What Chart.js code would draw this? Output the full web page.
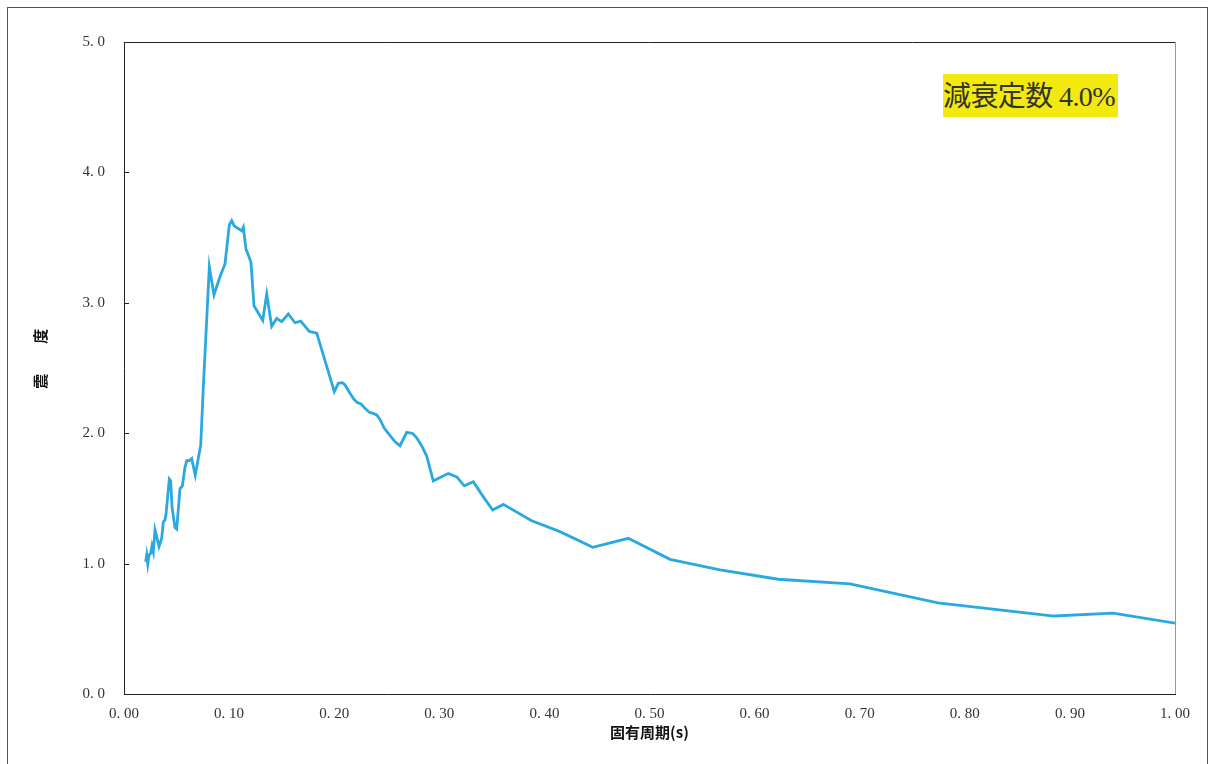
<!DOCTYPE html>
<html lang="ja">
<head>
<meta charset="utf-8">
<title>応答スペクトル</title>
<script src="https://cdn.jsdelivr.net/npm/chart.js@4"></script>
<style>
  html, body { margin: 0; padding: 0; background: #fff; }
  body { width: 1214px; height: 764px; position: relative; overflow: hidden; }
  .frame {
    position: absolute; left: 7px; top: 7px; width: 1201px; height: 780px;
    border: 1px solid #555; box-sizing: border-box;
  }
  .wrap { position: absolute; left: 0; top: 0; width: 1214px; height: 764px; }
  .note {
    position: absolute; left: 943px; top: 74px; width: 175px; height: 43px;
    background: #f2e90f; color: #333;
    font-family: "Liberation Serif", "Noto Sans CJK JP", serif;
    font-size: 28px; line-height: 45px; white-space: nowrap; letter-spacing: -0.6px;
    overflow: hidden;
  }
</style>
</head>
<body>
<div class="frame"></div>
<div class="wrap"><canvas id="myChart" width="1214" height="764"></canvas></div>
<div class="note">減衰定数 4.0%</div>
<script>
// periods (s) and response values
const periods = [
  0.0206, 0.0216, 0.0226, 0.0238, 0.0254, 0.0266, 0.0279, 0.0295, 0.0311, 0.0333,
  0.0359, 0.0374, 0.0390, 0.0400, 0.0431, 0.0444, 0.0457, 0.0485, 0.0501, 0.0533,
  0.0555, 0.0580, 0.0597, 0.0621, 0.0644, 0.0678, 0.0730, 0.0755, 0.0812, 0.0856,
  0.0913, 0.0961, 0.1002, 0.1025, 0.1049, 0.1097, 0.1120, 0.1135, 0.1161, 0.1183,
  0.1208, 0.1237, 0.1320, 0.1358, 0.1405, 0.1453, 0.1500, 0.1563, 0.1627, 0.1681,
  0.1763, 0.1834, 0.2001, 0.2039, 0.2077, 0.2103, 0.2150, 0.2188, 0.2220, 0.2255,
  0.2293, 0.2334, 0.2372, 0.2404, 0.2436, 0.2477, 0.2515, 0.2579, 0.2626, 0.2690,
  0.2747, 0.2785, 0.2833, 0.2880, 0.2943, 0.3007, 0.3086, 0.3166, 0.3238, 0.3324,
  0.3419, 0.3508, 0.3609, 0.3879, 0.4148, 0.4460, 0.4798, 0.5195, 0.5671, 0.6226,
  0.6908, 0.7745, 0.8849, 0.9410, 1.0000
];
const response = [
  1.014, 1.066, 0.997, 1.066, 1.079, 1.135, 1.090, 1.258, 1.207, 1.130,
  1.194, 1.320, 1.334, 1.380, 1.649, 1.636, 1.434, 1.276, 1.265, 1.575,
  1.595, 1.738, 1.790, 1.790, 1.805, 1.677, 1.910, 2.357, 3.277, 3.060,
  3.200, 3.298, 3.597, 3.630, 3.589, 3.564, 3.553, 3.579, 3.410, 3.366,
  3.310, 2.977, 2.865, 3.067, 2.820, 2.880, 2.855, 2.914, 2.847, 2.860,
  2.780, 2.767, 2.318, 2.382, 2.387, 2.370, 2.306, 2.260, 2.235, 2.224,
  2.191, 2.160, 2.152, 2.140, 2.106, 2.037, 1.998, 1.934, 1.904, 2.006,
  1.998, 1.965, 1.902, 1.825, 1.633, 1.660, 1.691, 1.665, 1.596, 1.627,
  1.512, 1.411, 1.454, 1.329, 1.245, 1.125, 1.194, 1.033, 0.951, 0.880,
  0.844, 0.698, 0.598, 0.620, 0.544
];
const xTicks = [0, 0.1, 0.2, 0.3, 0.4, 0.5, 0.6, 0.7, 0.8, 0.9, 1.0];
const yTicks = [0, 1, 2, 3, 4, 5];

const tickFont = { family: '"Liberation Serif", "DejaVu Serif", serif', size: 15 };

// plot frame plus short inward ticks on the y axis
const framePlugin = {
  id: 'frame',
  afterDraw(chart) {
    const { ctx, chartArea: a, scales } = chart;
    ctx.save();
    ctx.lineWidth = 1;
    ctx.strokeStyle = '#999';
    ctx.beginPath();
    ctx.moveTo(a.right + 0.5, a.top);
    ctx.lineTo(a.right + 0.5, a.bottom);
    ctx.stroke();
    ctx.strokeStyle = '#222';
    ctx.beginPath();
    ctx.moveTo(a.right, a.top + 0.5);
    ctx.lineTo(a.left + 0.5, a.top + 0.5);
    ctx.lineTo(a.left + 0.5, a.bottom + 0.5);
    ctx.lineTo(a.right + 1, a.bottom + 0.5);
    ctx.stroke();
    yTicks.forEach(v => {
      const y = Math.round(scales.y.getPixelForValue(v)) + 0.5;
      ctx.beginPath();
      ctx.moveTo(a.left, y);
      ctx.lineTo(a.left + 5, y);
      ctx.stroke();
    });
    ctx.restore();
  }
};

const ctx = document.getElementById('myChart').getContext('2d');

new Chart(ctx, {
  type: 'line',
  data: {
    datasets: [{
      label: '応答',
      data: periods.map((p, i) => ({ x: p, y: response[i] })),
      borderColor: '#2aa9e0',
      borderWidth: 2.8,
      pointRadius: 0,
      tension: 0,
      fill: false
    }]
  },
  options: {
    responsive: false,
    animation: false,
    layout: { padding: { left: 0, top: 42, right: 39, bottom: 20 } },
    plugins: {
      legend: { display: false },
      tooltip: { enabled: false }
    },
    scales: {
      x: {
        type: 'linear',
        min: 0,
        max: 1,
        afterFit: s => { s.height = 50; },
        afterBuildTicks: s => { s.ticks = xTicks.map(v => ({ value: v })); },
        grid: { display: false, drawTicks: false },
        border: { display: false },
        ticks: {
          padding: 11,
          color: '#333',
          font: tickFont,
          maxRotation: 0,
          callback: v => v.toFixed(2).replace('.', '. ')
        },
        title: {
          display: true,
          text: '固有周期(s)',
          color: '#111',
          font: { family: '"Noto Sans CJK JP", sans-serif', size: 15, weight: 'bold' },
          padding: { top: 0, bottom: 3 }
        }
      },
      y: {
        min: 0,
        max: 5,
        afterFit: s => { s.width = 124; },
        afterBuildTicks: s => { s.ticks = yTicks.map(v => ({ value: v })); },
        grid: { display: false, drawTicks: false },
        border: { display: false },
        ticks: {
          padding: 19,
          color: '#333',
          font: tickFont,
          callback: v => v.toFixed(1).replace('.', '. ')
        },
        title: {
          display: true,
          text: '　 震　　度',
          color: '#111',
          font: { family: '"Noto Sans CJK JP", sans-serif', size: 15, weight: 'bold' },
          padding: { top: 31, bottom: 0 }
        }
      }
    }
  },
  plugins: [framePlugin]
});
</script>
</body>
</html>
